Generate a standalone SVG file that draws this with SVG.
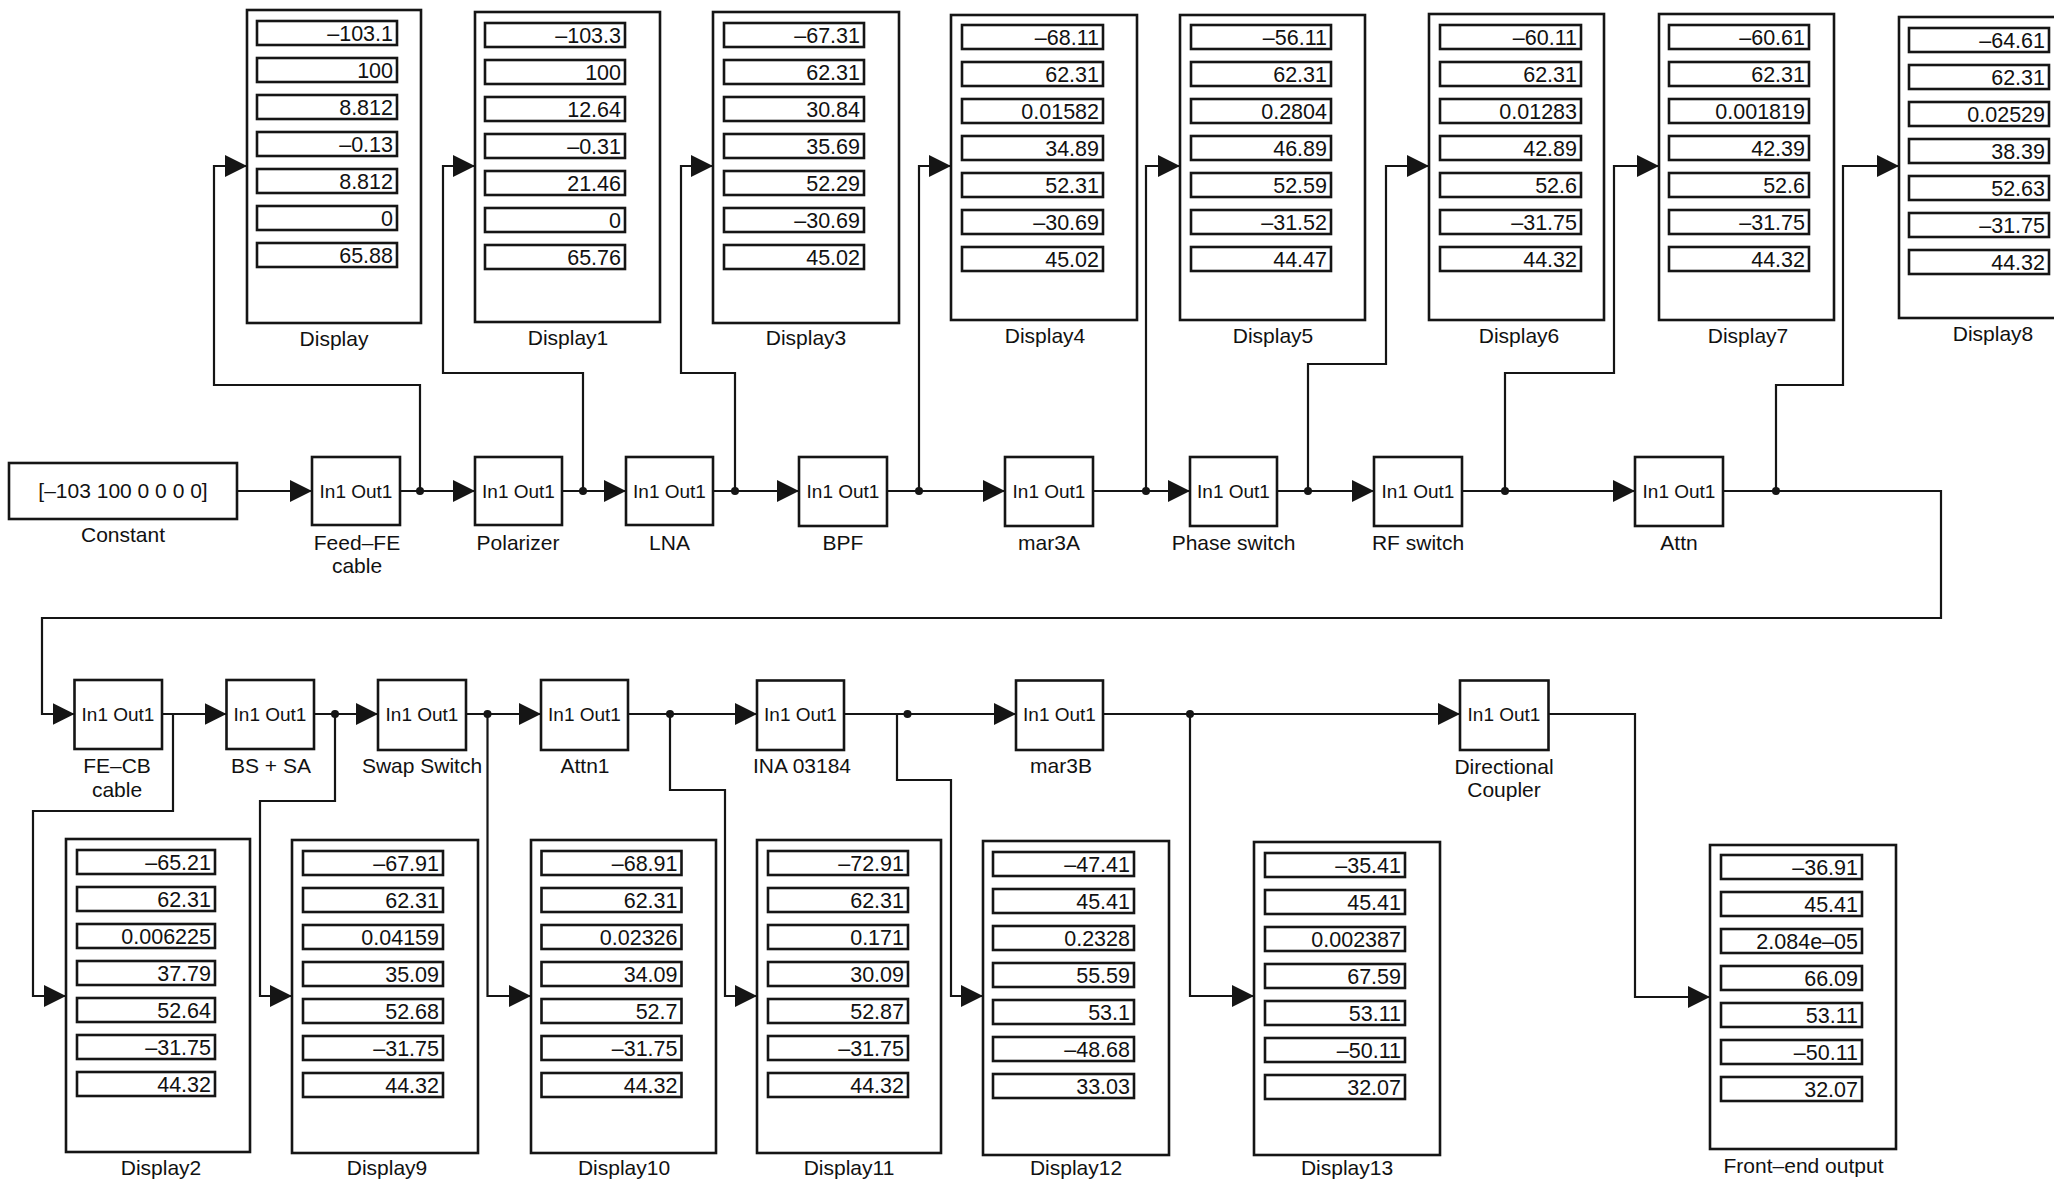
<svg xmlns="http://www.w3.org/2000/svg" width="2054" height="1182" viewBox="0 0 2054 1182">
<style>
.bg{fill:#fff}
.box{fill:#fff;stroke:#151515;stroke-width:2.6}
.fld{fill:#fff;stroke:#151515;stroke-width:2.6}
.num{font-family:"Liberation Sans",Arial,Helvetica,sans-serif;font-size:21.5px;fill:#111;text-anchor:end}
.lbl{font-family:"Liberation Sans",Arial,Helvetica,sans-serif;font-size:21px;fill:#111;text-anchor:middle}
.io{font-family:"Liberation Sans",Arial,Helvetica,sans-serif;font-size:19px;fill:#111;text-anchor:middle}
.wire{fill:none;stroke:#151515;stroke-width:2.2}
.arr{marker-end:url(#ah)}
.dot{fill:#151515}
</style>
<defs>
<marker id="ah" markerUnits="userSpaceOnUse" markerWidth="22" markerHeight="22" refX="22" refY="11" orient="auto">
<path d="M0,0 L22,11 L0,22 Z" fill="#151515"/>
</marker>
</defs>
<rect class="bg" x="0" y="0" width="2054" height="1182"/>

<!-- Constant -->
<g id="constant">
<rect class="box" x="9" y="463" width="228" height="56"/>
<text class="lbl" x="123" y="498">[–103 100 0 0 0 0]</text>
<text class="lbl" x="123" y="542">Constant</text>
</g>

<!-- Top row blocks -->
<g id="feed-fe-cable">
<rect class="box" x="312" y="457" width="88" height="68"/>
<text class="io" x="356" y="498">In1 Out1</text>
<text class="lbl" x="357" y="550">Feed–FE</text>
<text class="lbl" x="357" y="573">cable</text>
</g>
<g id="polarizer">
<rect class="box" x="475" y="457" width="87" height="68"/>
<text class="io" x="518.5" y="498">In1 Out1</text>
<text class="lbl" x="518" y="550">Polarizer</text>
</g>
<g id="lna">
<rect class="box" x="626" y="457" width="87" height="68"/>
<text class="io" x="669.5" y="498">In1 Out1</text>
<text class="lbl" x="669.5" y="550">LNA</text>
</g>
<g id="bpf">
<rect class="box" x="799" y="457" width="88" height="69"/>
<text class="io" x="843" y="498">In1 Out1</text>
<text class="lbl" x="843" y="550">BPF</text>
</g>
<g id="mar3a">
<rect class="box" x="1005" y="457" width="88" height="69"/>
<text class="io" x="1049" y="498">In1 Out1</text>
<text class="lbl" x="1049" y="550">mar3A</text>
</g>
<g id="phase-switch">
<rect class="box" x="1190" y="457" width="87" height="69"/>
<text class="io" x="1233.5" y="498">In1 Out1</text>
<text class="lbl" x="1233.5" y="550">Phase switch</text>
</g>
<g id="rf-switch">
<rect class="box" x="1374" y="457" width="88" height="69"/>
<text class="io" x="1418" y="498">In1 Out1</text>
<text class="lbl" x="1418" y="550">RF switch</text>
</g>
<g id="attn">
<rect class="box" x="1635" y="457" width="88" height="69"/>
<text class="io" x="1679" y="498">In1 Out1</text>
<text class="lbl" x="1679" y="550">Attn</text>
</g>

<!-- Bottom row blocks -->
<g id="fe-cb-cable">
<rect class="box" x="74.5" y="680" width="87.5" height="69"/>
<text class="io" x="118" y="721">In1 Out1</text>
<text class="lbl" x="117" y="773">FE–CB</text>
<text class="lbl" x="117" y="797">cable</text>
</g>
<g id="bs-sa">
<rect class="box" x="226.5" y="680" width="87.5" height="69"/>
<text class="io" x="270" y="721">In1 Out1</text>
<text class="lbl" x="271" y="773">BS + SA</text>
</g>
<g id="swap-switch">
<rect class="box" x="378" y="680" width="88" height="70"/>
<text class="io" x="422" y="721">In1 Out1</text>
<text class="lbl" x="422" y="773">Swap Switch</text>
</g>
<g id="attn1">
<rect class="box" x="541" y="680" width="87" height="70"/>
<text class="io" x="584.5" y="721">In1 Out1</text>
<text class="lbl" x="585" y="773">Attn1</text>
</g>
<g id="ina-03184">
<rect class="box" x="757" y="680.5" width="87" height="69.5"/>
<text class="io" x="800.5" y="721">In1 Out1</text>
<text class="lbl" x="802" y="773">INA 03184</text>
</g>
<g id="mar3b">
<rect class="box" x="1016" y="680.5" width="87" height="69.5"/>
<text class="io" x="1059.5" y="721">In1 Out1</text>
<text class="lbl" x="1061" y="773">mar3B</text>
</g>
<g id="directional-coupler">
<rect class="box" x="1460" y="680.5" width="88.5" height="69.5"/>
<text class="io" x="1504" y="721">In1 Out1</text>
<text class="lbl" x="1504" y="774">Directional</text>
<text class="lbl" x="1504" y="797">Coupler</text>
</g>

<!-- Displays top row -->
<g id="display" transform="translate(247,10)">
<rect class="box" x="0" y="0" width="174" height="313"/>
<rect class="fld" x="10" y="11" width="140" height="24"/><text class="num" x="146" y="30.5">–103.1</text>
<rect class="fld" x="10" y="48" width="140" height="24"/><text class="num" x="146" y="67.5">100</text>
<rect class="fld" x="10" y="85" width="140" height="24"/><text class="num" x="146" y="104.5">8.812</text>
<rect class="fld" x="10" y="122" width="140" height="24"/><text class="num" x="146" y="141.5">–0.13</text>
<rect class="fld" x="10" y="159" width="140" height="24"/><text class="num" x="146" y="178.5">8.812</text>
<rect class="fld" x="10" y="196" width="140" height="24"/><text class="num" x="146" y="215.5">0</text>
<rect class="fld" x="10" y="233" width="140" height="24"/><text class="num" x="146" y="252.5">65.88</text>
<text class="lbl" x="87" y="336">Display</text>
</g>
<g id="display1" transform="translate(475,12)">
<rect class="box" x="0" y="0" width="185" height="310"/>
<rect class="fld" x="10" y="11" width="140" height="24"/><text class="num" x="146" y="30.5">–103.3</text>
<rect class="fld" x="10" y="48" width="140" height="24"/><text class="num" x="146" y="67.5">100</text>
<rect class="fld" x="10" y="85" width="140" height="24"/><text class="num" x="146" y="104.5">12.64</text>
<rect class="fld" x="10" y="122" width="140" height="24"/><text class="num" x="146" y="141.5">–0.31</text>
<rect class="fld" x="10" y="159" width="140" height="24"/><text class="num" x="146" y="178.5">21.46</text>
<rect class="fld" x="10" y="196" width="140" height="24"/><text class="num" x="146" y="215.5">0</text>
<rect class="fld" x="10" y="233" width="140" height="24"/><text class="num" x="146" y="252.5">65.76</text>
<text class="lbl" x="93" y="333">Display1</text>
</g>
<g id="display3" transform="translate(713,12)">
<rect class="box" x="0" y="0" width="186" height="311"/>
<rect class="fld" x="11" y="11" width="140" height="24"/><text class="num" x="147" y="30.5">–67.31</text>
<rect class="fld" x="11" y="48" width="140" height="24"/><text class="num" x="147" y="67.5">62.31</text>
<rect class="fld" x="11" y="85" width="140" height="24"/><text class="num" x="147" y="104.5">30.84</text>
<rect class="fld" x="11" y="122" width="140" height="24"/><text class="num" x="147" y="141.5">35.69</text>
<rect class="fld" x="11" y="159" width="140" height="24"/><text class="num" x="147" y="178.5">52.29</text>
<rect class="fld" x="11" y="196" width="140" height="24"/><text class="num" x="147" y="215.5">–30.69</text>
<rect class="fld" x="11" y="233" width="140" height="24"/><text class="num" x="147" y="252.5">45.02</text>
<text class="lbl" x="93" y="333">Display3</text>
</g>
<g id="display4" transform="translate(951,15)">
<rect class="box" x="0" y="0" width="186" height="305"/>
<rect class="fld" x="11" y="10" width="141" height="24"/><text class="num" x="148" y="29.5">–68.11</text>
<rect class="fld" x="11" y="47" width="141" height="24"/><text class="num" x="148" y="66.5">62.31</text>
<rect class="fld" x="11" y="84" width="141" height="24"/><text class="num" x="148" y="103.5">0.01582</text>
<rect class="fld" x="11" y="121" width="141" height="24"/><text class="num" x="148" y="140.5">34.89</text>
<rect class="fld" x="11" y="158" width="141" height="24"/><text class="num" x="148" y="177.5">52.31</text>
<rect class="fld" x="11" y="195" width="141" height="24"/><text class="num" x="148" y="214.5">–30.69</text>
<rect class="fld" x="11" y="232" width="141" height="24"/><text class="num" x="148" y="251.5">45.02</text>
<text class="lbl" x="94" y="328">Display4</text>
</g>
<g id="display5" transform="translate(1180,15)">
<rect class="box" x="0" y="0" width="185" height="305"/>
<rect class="fld" x="11" y="10" width="140" height="24"/><text class="num" x="147" y="29.5">–56.11</text>
<rect class="fld" x="11" y="47" width="140" height="24"/><text class="num" x="147" y="66.5">62.31</text>
<rect class="fld" x="11" y="84" width="140" height="24"/><text class="num" x="147" y="103.5">0.2804</text>
<rect class="fld" x="11" y="121" width="140" height="24"/><text class="num" x="147" y="140.5">46.89</text>
<rect class="fld" x="11" y="158" width="140" height="24"/><text class="num" x="147" y="177.5">52.59</text>
<rect class="fld" x="11" y="195" width="140" height="24"/><text class="num" x="147" y="214.5">–31.52</text>
<rect class="fld" x="11" y="232" width="140" height="24"/><text class="num" x="147" y="251.5">44.47</text>
<text class="lbl" x="93" y="328">Display5</text>
</g>
<g id="display6" transform="translate(1429,14)">
<rect class="box" x="0" y="0" width="175" height="306"/>
<rect class="fld" x="11" y="11" width="141" height="24"/><text class="num" x="148" y="30.5">–60.11</text>
<rect class="fld" x="11" y="48" width="141" height="24"/><text class="num" x="148" y="67.5">62.31</text>
<rect class="fld" x="11" y="85" width="141" height="24"/><text class="num" x="148" y="104.5">0.01283</text>
<rect class="fld" x="11" y="122" width="141" height="24"/><text class="num" x="148" y="141.5">42.89</text>
<rect class="fld" x="11" y="159" width="141" height="24"/><text class="num" x="148" y="178.5">52.6</text>
<rect class="fld" x="11" y="196" width="141" height="24"/><text class="num" x="148" y="215.5">–31.75</text>
<rect class="fld" x="11" y="233" width="141" height="24"/><text class="num" x="148" y="252.5">44.32</text>
<text class="lbl" x="90" y="329">Display6</text>
</g>
<g id="display7" transform="translate(1659,14)">
<rect class="box" x="0" y="0" width="175" height="306"/>
<rect class="fld" x="10" y="11" width="140" height="24"/><text class="num" x="146" y="30.5">–60.61</text>
<rect class="fld" x="10" y="48" width="140" height="24"/><text class="num" x="146" y="67.5">62.31</text>
<rect class="fld" x="10" y="85" width="140" height="24"/><text class="num" x="146" y="104.5">0.001819</text>
<rect class="fld" x="10" y="122" width="140" height="24"/><text class="num" x="146" y="141.5">42.39</text>
<rect class="fld" x="10" y="159" width="140" height="24"/><text class="num" x="146" y="178.5">52.6</text>
<rect class="fld" x="10" y="196" width="140" height="24"/><text class="num" x="146" y="215.5">–31.75</text>
<rect class="fld" x="10" y="233" width="140" height="24"/><text class="num" x="146" y="252.5">44.32</text>
<text class="lbl" x="89" y="329">Display7</text>
</g>
<g id="display8" transform="translate(1899,17)">
<rect class="box" x="0" y="0" width="190" height="301"/>
<rect class="fld" x="10" y="11" width="140" height="24"/><text class="num" x="146" y="30.5">–64.61</text>
<rect class="fld" x="10" y="48" width="140" height="24"/><text class="num" x="146" y="67.5">62.31</text>
<rect class="fld" x="10" y="85" width="140" height="24"/><text class="num" x="146" y="104.5">0.02529</text>
<rect class="fld" x="10" y="122" width="140" height="24"/><text class="num" x="146" y="141.5">38.39</text>
<rect class="fld" x="10" y="159" width="140" height="24"/><text class="num" x="146" y="178.5">52.63</text>
<rect class="fld" x="10" y="196" width="140" height="24"/><text class="num" x="146" y="215.5">–31.75</text>
<rect class="fld" x="10" y="233" width="140" height="24"/><text class="num" x="146" y="252.5">44.32</text>
<text class="lbl" x="94" y="324">Display8</text>
</g>

<!-- Displays bottom row -->
<g id="display2" transform="translate(66,839)">
<rect class="box" x="0" y="0" width="184" height="313"/>
<rect class="fld" x="11" y="11" width="138" height="24"/><text class="num" x="145" y="30.5">–65.21</text>
<rect class="fld" x="11" y="48" width="138" height="24"/><text class="num" x="145" y="67.5">62.31</text>
<rect class="fld" x="11" y="85" width="138" height="24"/><text class="num" x="145" y="104.5">0.006225</text>
<rect class="fld" x="11" y="122" width="138" height="24"/><text class="num" x="145" y="141.5">37.79</text>
<rect class="fld" x="11" y="159" width="138" height="24"/><text class="num" x="145" y="178.5">52.64</text>
<rect class="fld" x="11" y="196" width="138" height="24"/><text class="num" x="145" y="215.5">–31.75</text>
<rect class="fld" x="11" y="233" width="138" height="24"/><text class="num" x="145" y="252.5">44.32</text>
<text class="lbl" x="95" y="336">Display2</text>
</g>
<g id="display9" transform="translate(292,840)">
<rect class="box" x="0" y="0" width="186" height="313"/>
<rect class="fld" x="11" y="11" width="140" height="24"/><text class="num" x="147" y="30.5">–67.91</text>
<rect class="fld" x="11" y="48" width="140" height="24"/><text class="num" x="147" y="67.5">62.31</text>
<rect class="fld" x="11" y="85" width="140" height="24"/><text class="num" x="147" y="104.5">0.04159</text>
<rect class="fld" x="11" y="122" width="140" height="24"/><text class="num" x="147" y="141.5">35.09</text>
<rect class="fld" x="11" y="159" width="140" height="24"/><text class="num" x="147" y="178.5">52.68</text>
<rect class="fld" x="11" y="196" width="140" height="24"/><text class="num" x="147" y="215.5">–31.75</text>
<rect class="fld" x="11" y="233" width="140" height="24"/><text class="num" x="147" y="252.5">44.32</text>
<text class="lbl" x="95" y="335">Display9</text>
</g>
<g id="display10" transform="translate(531,840)">
<rect class="box" x="0" y="0" width="185" height="313"/>
<rect class="fld" x="10.5" y="11" width="140" height="24"/><text class="num" x="146.5" y="30.5">–68.91</text>
<rect class="fld" x="10.5" y="48" width="140" height="24"/><text class="num" x="146.5" y="67.5">62.31</text>
<rect class="fld" x="10.5" y="85" width="140" height="24"/><text class="num" x="146.5" y="104.5">0.02326</text>
<rect class="fld" x="10.5" y="122" width="140" height="24"/><text class="num" x="146.5" y="141.5">34.09</text>
<rect class="fld" x="10.5" y="159" width="140" height="24"/><text class="num" x="146.5" y="178.5">52.7</text>
<rect class="fld" x="10.5" y="196" width="140" height="24"/><text class="num" x="146.5" y="215.5">–31.75</text>
<rect class="fld" x="10.5" y="233" width="140" height="24"/><text class="num" x="146.5" y="252.5">44.32</text>
<text class="lbl" x="93" y="335">Display10</text>
</g>
<g id="display11" transform="translate(757,840)">
<rect class="box" x="0" y="0" width="184" height="313"/>
<rect class="fld" x="11" y="11" width="140" height="24"/><text class="num" x="147" y="30.5">–72.91</text>
<rect class="fld" x="11" y="48" width="140" height="24"/><text class="num" x="147" y="67.5">62.31</text>
<rect class="fld" x="11" y="85" width="140" height="24"/><text class="num" x="147" y="104.5">0.171</text>
<rect class="fld" x="11" y="122" width="140" height="24"/><text class="num" x="147" y="141.5">30.09</text>
<rect class="fld" x="11" y="159" width="140" height="24"/><text class="num" x="147" y="178.5">52.87</text>
<rect class="fld" x="11" y="196" width="140" height="24"/><text class="num" x="147" y="215.5">–31.75</text>
<rect class="fld" x="11" y="233" width="140" height="24"/><text class="num" x="147" y="252.5">44.32</text>
<text class="lbl" x="92" y="335">Display11</text>
</g>
<g id="display12" transform="translate(983,841)">
<rect class="box" x="0" y="0" width="186" height="314"/>
<rect class="fld" x="10" y="11" width="141" height="24"/><text class="num" x="147" y="30.5">–47.41</text>
<rect class="fld" x="10" y="48" width="141" height="24"/><text class="num" x="147" y="67.5">45.41</text>
<rect class="fld" x="10" y="85" width="141" height="24"/><text class="num" x="147" y="104.5">0.2328</text>
<rect class="fld" x="10" y="122" width="141" height="24"/><text class="num" x="147" y="141.5">55.59</text>
<rect class="fld" x="10" y="159" width="141" height="24"/><text class="num" x="147" y="178.5">53.1</text>
<rect class="fld" x="10" y="196" width="141" height="24"/><text class="num" x="147" y="215.5">–48.68</text>
<rect class="fld" x="10" y="233" width="141" height="24"/><text class="num" x="147" y="252.5">33.03</text>
<text class="lbl" x="93" y="334">Display12</text>
</g>
<g id="display13" transform="translate(1254,842)">
<rect class="box" x="0" y="0" width="186" height="313"/>
<rect class="fld" x="11" y="11" width="140" height="24"/><text class="num" x="147" y="30.5">–35.41</text>
<rect class="fld" x="11" y="48" width="140" height="24"/><text class="num" x="147" y="67.5">45.41</text>
<rect class="fld" x="11" y="85" width="140" height="24"/><text class="num" x="147" y="104.5">0.002387</text>
<rect class="fld" x="11" y="122" width="140" height="24"/><text class="num" x="147" y="141.5">67.59</text>
<rect class="fld" x="11" y="159" width="140" height="24"/><text class="num" x="147" y="178.5">53.11</text>
<rect class="fld" x="11" y="196" width="140" height="24"/><text class="num" x="147" y="215.5">–50.11</text>
<rect class="fld" x="11" y="233" width="140" height="24"/><text class="num" x="147" y="252.5">32.07</text>
<text class="lbl" x="93" y="333">Display13</text>
</g>
<g id="front-end-output" transform="translate(1710,845)">
<rect class="box" x="0" y="0" width="186" height="304"/>
<rect class="fld" x="11" y="10" width="141" height="24"/><text class="num" x="148" y="29.5">–36.91</text>
<rect class="fld" x="11" y="47" width="141" height="24"/><text class="num" x="148" y="66.5">45.41</text>
<rect class="fld" x="11" y="84" width="141" height="24"/><text class="num" x="148" y="103.5">2.084e–05</text>
<rect class="fld" x="11" y="121" width="141" height="24"/><text class="num" x="148" y="140.5">66.09</text>
<rect class="fld" x="11" y="158" width="141" height="24"/><text class="num" x="148" y="177.5">53.11</text>
<rect class="fld" x="11" y="195" width="141" height="24"/><text class="num" x="148" y="214.5">–50.11</text>
<rect class="fld" x="11" y="232" width="141" height="24"/><text class="num" x="148" y="251.5">32.07</text>
<text class="lbl" x="93.5" y="328">Front–end output</text>
</g>

<!-- Connectors -->
<g id="connectors">
<path class="wire arr" d="M237,491 H312"/>
<path class="wire arr" d="M400,491 H475"/>
<path class="wire arr" d="M420,491 V385 H214 V166 H247"/>
<path class="wire arr" d="M562,491 H626"/>
<path class="wire arr" d="M583,491 V373 H443 V166 H475"/>
<path class="wire arr" d="M713,491 H799"/>
<path class="wire arr" d="M735,491 V373 H681 V166 H713"/>
<path class="wire arr" d="M887,491 H1005"/>
<path class="wire arr" d="M919,491 V166 H951"/>
<path class="wire arr" d="M1093,491 H1190"/>
<path class="wire arr" d="M1146,491 V166 H1180"/>
<path class="wire arr" d="M1277,491 H1374"/>
<path class="wire arr" d="M1308,491 V364 H1386 V166 H1429"/>
<path class="wire arr" d="M1462,491 H1635"/>
<path class="wire arr" d="M1505,491 V373 H1614 V166 H1659"/>
<path class="wire arr" d="M1723,491 H1941 V618 H42 V714 H74.5"/>
<path class="wire arr" d="M1776,491 V385 H1843 V166 H1899"/>

<path class="wire arr" d="M162,714 H226.5"/>
<path class="wire arr" d="M173,714 V811 H33 V996 H66"/>
<path class="wire arr" d="M314,714 H378"/>
<path class="wire arr" d="M335,714 V801 H260 V996 H292"/>
<path class="wire arr" d="M466,714 H541"/>
<path class="wire arr" d="M487.5,714 V996 H531"/>
<path class="wire arr" d="M628,714 H757"/>
<path class="wire arr" d="M670,714 V790 H725 V996 H757"/>
<path class="wire arr" d="M844,714 H1016"/>
<path class="wire arr" d="M897,714 V780 H951 V996 H983"/>
<path class="wire arr" d="M1103,714 H1460"/>
<path class="wire arr" d="M1190,714 V996 H1254"/>
<path class="wire arr" d="M1548.5,714 H1635 V997 H1710"/>

<circle class="dot" cx="420" cy="491" r="4"/>
<circle class="dot" cx="583" cy="491" r="4"/>
<circle class="dot" cx="735" cy="491" r="4"/>
<circle class="dot" cx="919" cy="491" r="4"/>
<circle class="dot" cx="1146" cy="491" r="4"/>
<circle class="dot" cx="1308" cy="491" r="4"/>
<circle class="dot" cx="1505" cy="491" r="4"/>
<circle class="dot" cx="1776" cy="491" r="4"/>
<circle class="dot" cx="335" cy="714" r="4"/>
<circle class="dot" cx="487.5" cy="714" r="4"/>
<circle class="dot" cx="670" cy="714" r="4"/>
<circle class="dot" cx="907.5" cy="714" r="4"/>
<circle class="dot" cx="1190" cy="714" r="4"/>
</g>
</svg>
